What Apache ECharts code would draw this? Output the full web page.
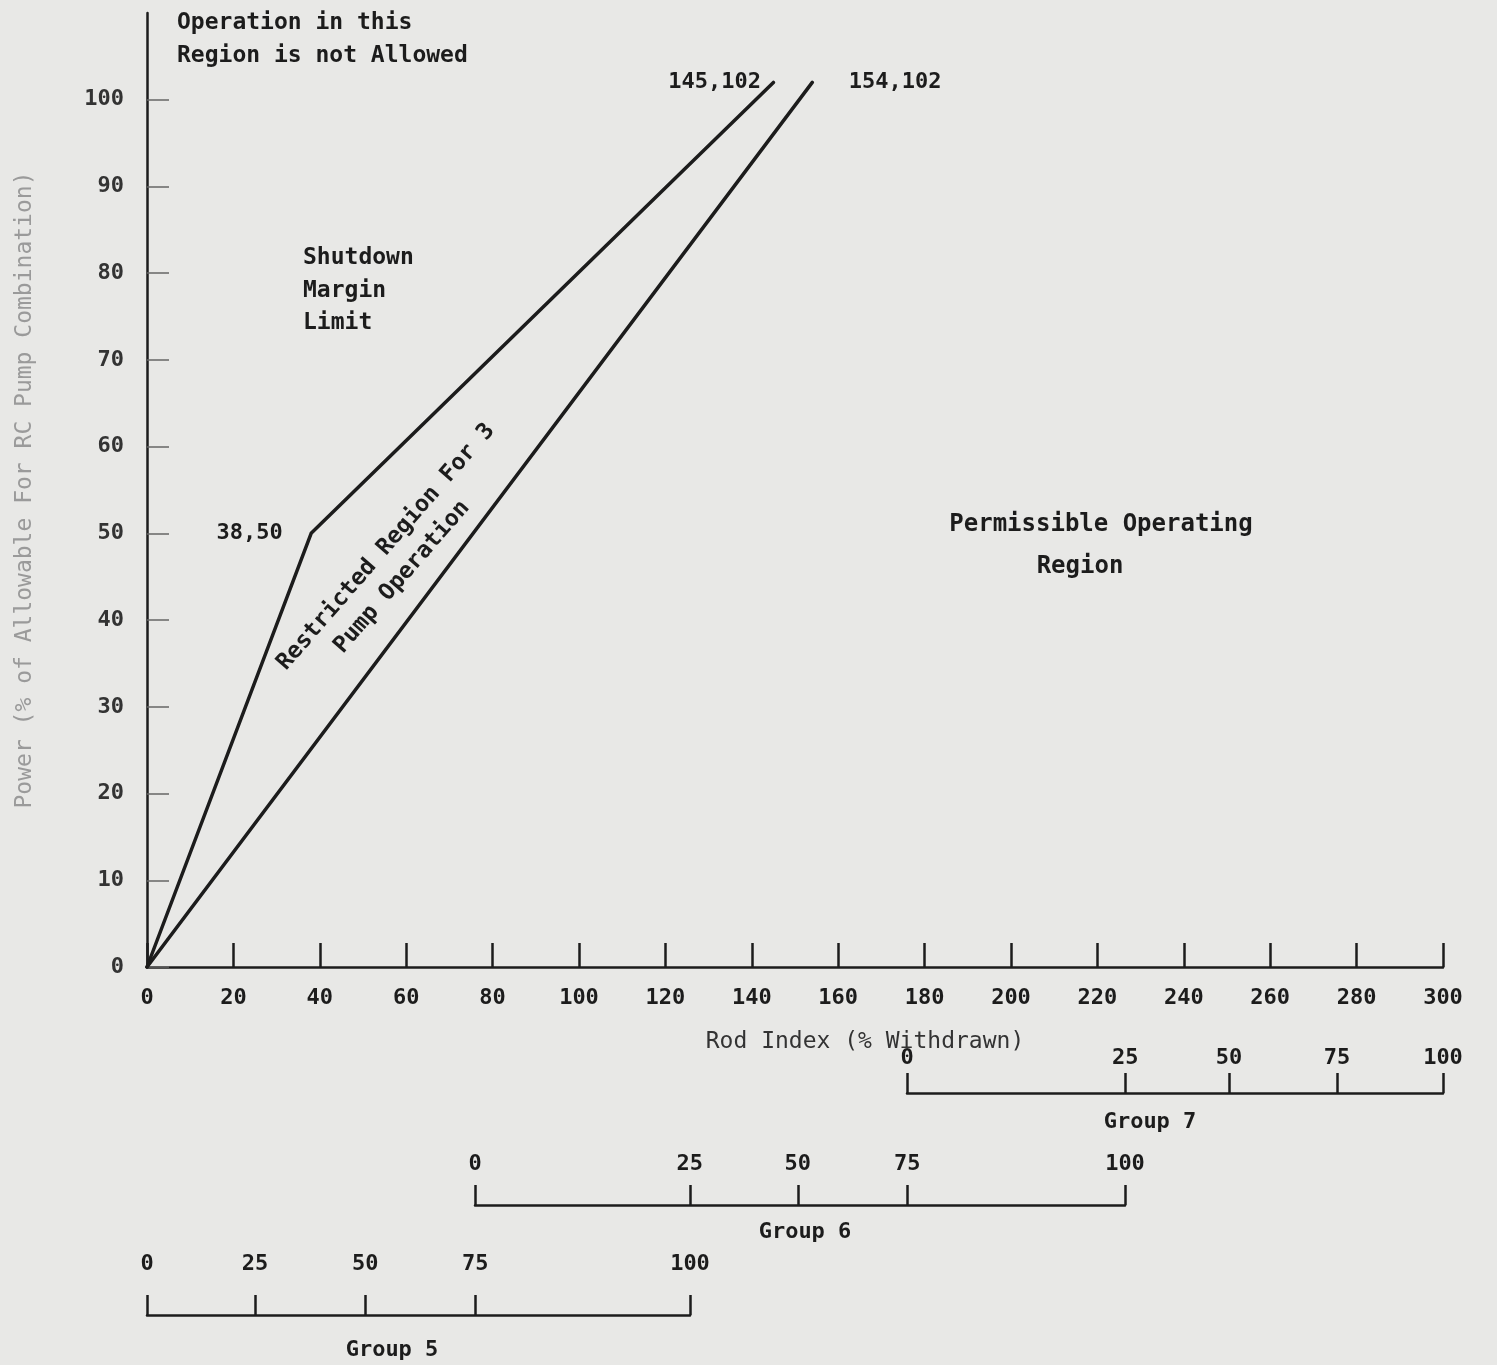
<!DOCTYPE html>
<html>
<head>
<meta charset="utf-8">
<title>Rod Index vs Power - 3 Pump Operation</title>
<script src="https://cdn.jsdelivr.net/npm/echarts@6.0.0/dist/echarts.min.js"></script>
<style>
html, body { margin: 0; padding: 0; background: #e8e8e6; }
#main { width: 1497px; height: 1365px; }
</style>
</head>
<body>
<div id="main"></div>
<script>
// data
const shutdownX = [0, 38, 145];
const shutdownY = [0, 50, 102];
const shutdownLabels = ['', '38,50', '145,102'];
const pumpX = [0, 154];
const pumpY = [0, 102];
const pumpLabels = ['', '154,102'];

const yTicks = [0, 10, 20, 30, 40, 50, 60, 70, 80, 90, 100];

// group scales, tick positions in rod index units
const groupLabels = ['0', '25', '50', '75', '100'];
const group7Pos = [176, 226.5, 250.5, 275.5, 300];
const group6Pos = [76, 125.7, 150.7, 176, 226.4];
const group5Pos = [0, 25, 50.5, 76, 125.7];

const FONT = '"DejaVu Sans Mono", monospace';
const INK = '#1c1c1c';

const chart = echarts.init(document.getElementById('main'));

const pickLabel = (pos) => (v) => {
  let best = 0;
  pos.forEach((p, i) => { if (Math.abs(p - v) < Math.abs(pos[best] - v)) best = i; });
  return groupLabels[best];
};

// one small axis per rod group
const groupAxis = (gi, pos, margin) => ({
  gridIndex: gi,
  type: 'value',
  min: pos[0],
  max: pos[pos.length - 1],
  position: 'bottom',
  axisLine: { show: true, lineStyle: { color: INK, width: 2.5 } },
  axisTick: { show: true, inside: true, length: 20, customValues: pos, lineStyle: { color: INK, width: 2.5 } },
  axisLabel: {
    show: true, inside: true, margin: margin, customValues: pos,
    formatter: pickLabel(pos),
    color: INK, fontFamily: FONT, fontWeight: 'bold', fontSize: 22
  },
  splitLine: { show: false }
});

const makeData = (xs, ys, labels, pos, dist) => xs.map((x, i) => ({
  value: [x, ys[i]],
  label: {
    show: labels[i] !== '',
    formatter: labels[i],
    position: pos[i] || 'left',
    distance: dist[i] || 10,
    color: INK, fontFamily: FONT, fontWeight: 'bold', fontSize: 22
  }
}));

const txt = (text, x, y, opts) => ({
  type: 'text', x: x, y: y,
  rotation: (opts && opts.rotation) || 0,
  style: Object.assign({
    text: text, fill: INK, fontFamily: FONT, fontWeight: 'bold', fontSize: 23,
    align: 'left', verticalAlign: 'middle'
  }, (opts && opts.style) || {})
});

const option = {
  backgroundColor: '#e8e8e6',
  animation: false,
  grid: [
    { left: 147, right: 54, top: 13, bottom: 398 },   // main
    { left: 907, right: 54, top: 1063, bottom: 272 }, // group 7
    { left: 475, right: 372, top: 1175, bottom: 160 },// group 6
    { left: 147, right: 807, top: 1285, bottom: 50 }  // group 5
  ],
  xAxis: [
    {
      gridIndex: 0,
      type: 'value', min: 0, max: 300, interval: 20,
      axisLine: { show: true, onZero: false, lineStyle: { color: INK, width: 2.5 } },
      axisTick: { show: true, inside: true, length: 24, lineStyle: { color: INK, width: 2.5 } },
      axisLabel: { margin: 20, color: INK, fontFamily: FONT, fontWeight: 'bold', fontSize: 22 },
      splitLine: { show: false }
    },
    groupAxis(1, group7Pos, 24),
    groupAxis(2, group6Pos, 30),
    groupAxis(3, group5Pos, 40)
  ],
  yAxis: [
    {
      gridIndex: 0,
      type: 'value', min: 0, max: 110,
      name: 'Power (% of Allowable For RC Pump Combination)',
      nameLocation: 'middle', nameRotate: 90, nameGap: 110,
      nameTextStyle: { color: '#9a9a9a', fontFamily: FONT, fontSize: 23 },
      axisLine: { show: true, lineStyle: { color: INK, width: 2.5 } },
      axisTick: { show: true, inside: true, length: 22, customValues: yTicks, lineStyle: { color: '#666', width: 1.5 } },
      axisLabel: { margin: 23, customValues: yTicks, color: '#333', fontFamily: FONT, fontWeight: 'bold', fontSize: 22 },
      splitLine: { show: false }
    },
    { gridIndex: 1, type: 'value', show: false },
    { gridIndex: 2, type: 'value', show: false },
    { gridIndex: 3, type: 'value', show: false }
  ],
  series: [
    {
      name: 'Shutdown Margin Limit',
      type: 'line',
      symbol: 'circle',
      symbolSize: 1,
      showSymbol: true,
      itemStyle: { color: INK },
      data: makeData(shutdownX, shutdownY, shutdownLabels, [null, 'left', 'left'], [0, 28, 12]),
      lineStyle: { color: INK, width: 3.5, cap: 'round', join: 'round' }
    },
    {
      name: '3 Pump Limit',
      type: 'line',
      symbol: 'circle',
      symbolSize: 1,
      showSymbol: true,
      itemStyle: { color: INK },
      data: makeData(pumpX, pumpY, pumpLabels, [null, 'right'], [0, 36]),
      lineStyle: { color: INK, width: 3.5, cap: 'round' }
    }
  ],
  graphic: [
    txt('Operation in this', 177, 23),
    txt('Region is not Allowed', 177, 56),
    txt('Shutdown', 303, 258),
    txt('Margin', 303, 291),
    txt('Limit', 303, 323),
    txt('Restricted Region For 3', 386, 547, { rotation: 49 * Math.PI / 180, style: { align: 'center' } }),
    txt('Pump Operation', 402, 577, { rotation: 49 * Math.PI / 180, style: { align: 'center' } }),
    txt('Permissible Operating', 1101, 525, { style: { align: 'center', fontSize: 24 } }),
    txt('Region', 1080, 567, { style: { align: 'center', fontSize: 24 } }),
    txt('Rod Index (% Withdrawn)', 865, 1042, { style: { align: 'center', fontWeight: 'normal', fill: '#333' } }),
    txt('Group 7', 1150, 1122, { style: { align: 'center', fontSize: 22 } }),
    txt('Group 6', 805, 1232, { style: { align: 'center', fontSize: 22 } }),
    txt('Group 5', 392, 1350, { style: { align: 'center', fontSize: 22 } })
  ]
};

chart.setOption(option);
window.addEventListener('resize', function () {
  chart.resize();
});
</script>
</body>
</html>
